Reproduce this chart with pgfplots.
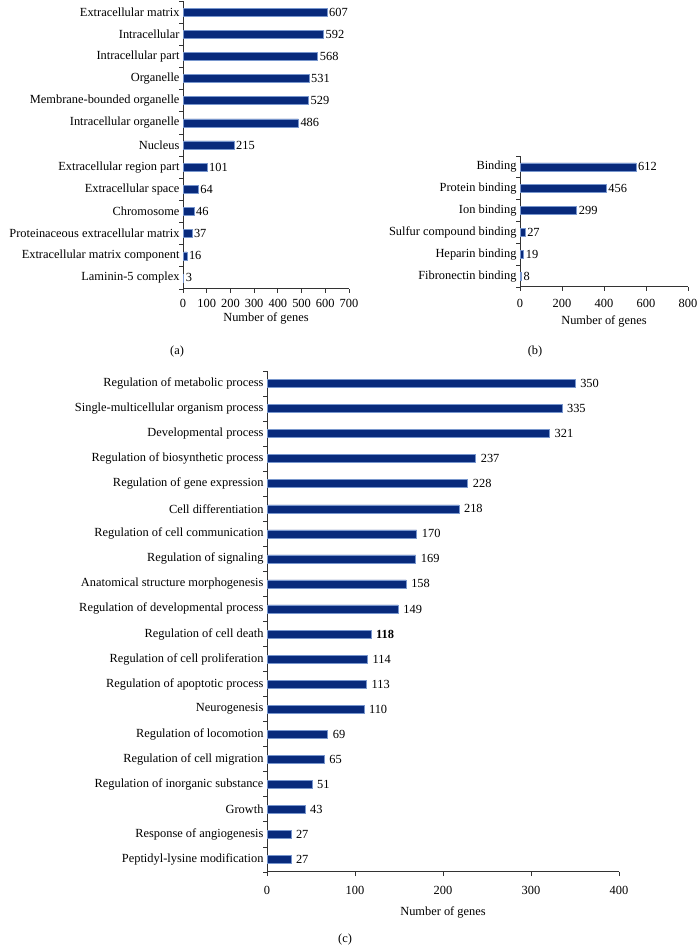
\documentclass[border=0pt]{standalone}
\usepackage{pgfplots}
\pgfplotsset{compat=1.18}
\usepackage{fontspec}
\setmainfont{Liberation Serif}
\definecolor{barblue}{RGB}{8,42,124}
\definecolor{baredge}{RGB}{120,150,205}
\newcommand{\lblfont}{\fontsize{12.4}{14}\selectfont}
\pgfplotsset{
  hbar/.style={
    xbar, bar width=8pt, bar shift=0pt,
    scale only axis, clip=false,
    axis x line*=bottom, axis y line*=left,
    axis line style={line width=1pt, black!80},
    xmin=0, ymin=-0.5,
    tick align=outside,
    major tick length=4pt,
    tick style={line width=0.8pt, black!80},
    tick label style={font=\lblfont},
    label style={font=\lblfont},
    /pgf/number format/assume math mode=true,
    yticklabels={},
    extra y tick style={major tick length=0pt},
    point meta=explicit symbolic,
    nodes near coords={\pgfplotspointmeta},
    nodes near coords style={font=\lblfont, anchor=west, inner sep=2pt},
    xlabel={Number of genes},
  },
  barstyle/.style={fill=barblue, draw=baredge, line width=0.5pt},
}
\begin{document}
\begin{tikzpicture}[x=1pt,y=1pt]
\useasboundingbox (0pt,0pt) rectangle (696pt,947pt);

% (a)
\begin{axis}[hbar, at={(183pt,658pt)}, anchor=south west, width=166pt, height=288pt,
  xmax=700, xtick={0,100,...,700}, ymax=12.5,
  xticklabel style={yshift=-3pt},
  xlabel style={at={(axis description cs:0.5,-0.1007)}, anchor=center},
  ytick={-0.5,0.5,...,12.5},
  extra y ticks={0,1,...,12},
  extra y tick labels={Laminin-5 complex,Extracellular matrix component,Proteinaceous extracellular matrix,Chromosome,Extracellular space,Extracellular region part,Nucleus,Intracellular organelle,Membrane-bounded organelle,Organelle,Intracellular part,Intracellular,Extracellular matrix},
]
\addplot[barstyle] coordinates {
 (3,0) [3] (16,1) [16] (37,2) [37] (46,3) [46] (64,4) [64] (101,5) [101]
 (215,6) [215] (486,7) [486] (529,8) [529] (531,9) [531] (568,10) [568]
 (592,11) [592] (607,12) [607]
};
\end{axis}

% (b)
\begin{axis}[hbar, at={(520pt,660pt)}, anchor=south west, width=168pt, height=131pt,
  xmax=800, xtick={0,200,...,800}, ymax=5.5,
  xticklabel style={yshift=-5pt},
  xlabel style={at={(axis description cs:0.5,-0.267)}, anchor=center},
  ytick={-0.5,0.5,...,5.5},
  extra y ticks={0,1,...,5},
  extra y tick labels={Fibronectin binding,Heparin binding,Sulfur compound binding,Ion binding,Protein binding,Binding},
]
\addplot[barstyle] coordinates {
 (7,0) [8] (17,1) [19] (24,2) [27] (270,3) [299] (410,4) [456] (552,5) [612]
};
\end{axis}

% (c)
\begin{axis}[hbar, at={(267pt,75pt)}, anchor=south west, width=352pt, height=501pt,
  xmax=400, xtick={0,100,...,400}, ymax=19.5,
  xticklabel style={yshift=-7pt},
  xlabel style={at={(axis description cs:0.5,-0.0798)}, anchor=center},
  nodes near coords style={inner sep=5pt},
  ytick={-0.5,0.5,...,19.5},
  extra y ticks={0,1,...,19},
  extra y tick labels={Peptidyl-lysine modification,Response of angiogenesis,Growth,Regulation of inorganic substance,Regulation of cell migration,Regulation of locomotion,Neurogenesis,Regulation of apoptotic process,Regulation of cell proliferation,Regulation of cell death,Regulation of developmental process,Anatomical structure morphogenesis,Regulation of signaling,Regulation of cell communication,Cell differentiation,Regulation of gene expression,Regulation of biosynthetic process,Developmental process,Single-multicellular organism process,Regulation of metabolic process},
]
\addplot[barstyle] coordinates {
 (27,0) [27] (27,1) [27] (43,2) [43] (51,3) [51] (65,4) [65] (69,5) [69]
 (110,6) [110] (113,7) [113] (114,8) [114] (118,9) [\textbf{118}] (149,10) [149]
 (158,11) [158] (169,12) [169] (170,13) [170] (218,14) [218] (228,15) [228]
 (237,16) [237] (321,17) [321] (335,18) [335] (350,19) [350]
};
\end{axis}

\node[font=\lblfont] at (177pt,595pt) {(a)};
\node[font=\lblfont] at (535pt,595pt) {(b)};
\node[font=\lblfont] at (345pt,7pt) {(c)};
\end{tikzpicture}
\end{document}
